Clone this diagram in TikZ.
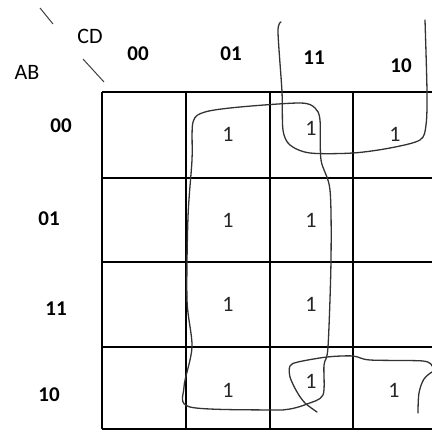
\documentclass[tikz,border=0pt]{standalone}
\usepackage{fontspec}
\setmainfont{Carlito}
\begin{document}
\begin{tikzpicture}[x=1pt,y=-1pt,
  gridline/.style={line width=1.4pt,black},
  loop/.style={line width=1.3pt,black!80,line join=round,line cap=round},
  hdr/.style={font=\fontsize{21}{24}\selectfont\bfseries,inner sep=0pt},
  lab/.style={font=\fontsize{22}{24}\selectfont,inner sep=0pt},
  one/.style={font=\fontsize{22}{24}\selectfont,inner sep=0pt,text=black!85}]
\useasboundingbox (0,0) rectangle (432,431);
% grid
\foreach \y in {92,178,262,347,429} \draw[gridline] (102,\y) -- (432,\y);
\foreach \x in {102,186,270,353} \draw[gridline] (\x,92) -- (\x,429);
% corner labels
\node[lab] (cd) at (90,36) {CD};
\node[lab] (ab) at (27,72) {AB};
\draw[line width=1pt,black!75] (40,8) -- (53,24);
\draw[line width=1pt,black!75] (83,59) -- (104,82);
% column headers
\node[hdr] (c00) at (138,54) {00};
\node[hdr] (c01) at (231,54) {01};
\node[hdr] (c11) at (314,58) {11};
\node[hdr] (c10) at (401,66) {10};
% row headers
\node[hdr] (r00) at (61,126) {00};
\node[hdr] (r01) at (49,219) {01};
\node[hdr] (r11) at (56,309) {11};
\node[hdr] (r10) at (49,395) {10};
% ones
\node[one] (m1) at (228,134) {1};
\node[one] (m3) at (311,128) {1};
\node[one] (m2) at (395,134) {1};
\node[one] (m5) at (228,220) {1};
\node[one] (m7) at (311,220) {1};
\node[one] (m13) at (228,304) {1};
\node[one] (m15) at (311,304) {1};
\node[one] (m9) at (228,390) {1};
\node[one] (m11) at (311,381) {1};
\node[one] (m10) at (394,390) {1};
% loop A
\draw[loop] plot[smooth cycle,tension=0.5] coordinates {(193,122) (205,112) (240,107) (300,103) (315,108) (320,120) (321,160) (330,190) (331,260) (328,347) (324,365) (323,395) (307,404) (290,409) (270,410) (190,407) (184,387) (192,347) (187,300) (188,217) (192,160)};
% loop B
\draw[loop] plot[smooth,tension=0.5] coordinates {(281,22) (278,32) (282,92) (283,130) (290,145) (310,153) (353,153) (390,148) (420,140) (426,125) (427,92) (425,20)};
% loop C
\draw[loop] plot[smooth,tension=0.5] coordinates {(317,412) (305,403) (297,392) (290,377) (290,366) (298,362) (327,357) (353,356) (370,360) (423,361) (432,366)};
\draw[loop] plot[smooth,tension=0.6] coordinates {(432,372) (424,379) (419,393) (418,413)};
\end{tikzpicture}
\end{document}
